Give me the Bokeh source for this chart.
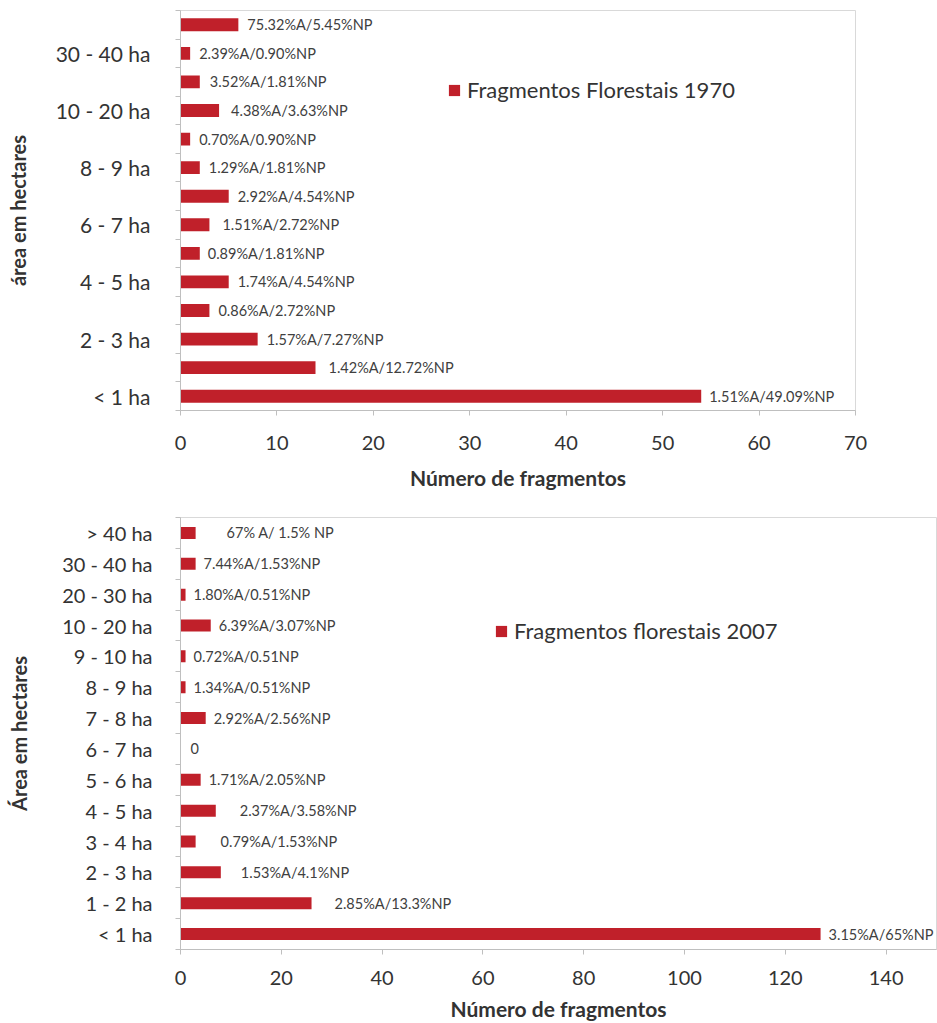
from bokeh.plotting import figure
from bokeh.models import Range1d, FixedTicker, ColumnDataSource, Legend, LegendItem
from bokeh.embed import file_html
from bokeh.resources import INLINE
from bokeh.core.properties import value

# ---- data ----
classes = ["< 1 ha", "1 - 2 ha", "2 - 3 ha", "3 - 4 ha", "4 - 5 ha", "5 - 6 ha", "6 - 7 ha",
           "7 - 8 ha", "8 - 9 ha", "9 - 10 ha", "10 - 20 ha", "20 - 30 ha", "30 - 40 ha", "> 40 ha"]

count_1970 = [54, 14, 8, 3, 5, 2, 3, 5, 2, 1, 4, 2, 1, 6]
labels_1970 = ["1.51%A/49.09%NP", "1.42%A/12.72%NP", "1.57%A/7.27%NP", "0.86%A/2.72%NP",
               "1.74%A/4.54%NP", "0.89%A/1.81%NP", "1.51%A/2.72%NP", "2.92%A/4.54%NP",
               "1.29%A/1.81%NP", "0.70%A/0.90%NP", "4.38%A/3.63%NP", "3.52%A/1.81%NP",
               "2.39%A/0.90%NP", "75.32%A/5.45%NP"]
shown_1970 = [0, 2, 4, 6, 8, 10, 12]   # category rows that carry a tick label
x_ticks_1970 = [0, 10, 20, 30, 40, 50, 60, 70]

count_2007 = [127, 26, 8, 3, 7, 4, 0, 5, 1, 1, 6, 1, 3, 3]
labels_2007 = ["3.15%A/65%NP", "2.85%A/13.3%NP", "1.53%A/4.1%NP", "0.79%A/1.53%NP",
               "2.37%A/3.58%NP", "1.71%A/2.05%NP", "0", "2.92%A/2.56%NP",
               "1.34%A/0.51%NP", "0.72%A/0.51NP", "6.39%A/3.07%NP", "1.80%A/0.51%NP",
               "7.44%A/1.53%NP", "67% A/ 1.5% NP"]
shown_2007 = list(range(14))
x_ticks_2007 = [0, 20, 40, 60, 80, 100, 120, 140]

# ---- style (pixel offsets of the data labels from bar ends) ----
dx_1970 = [8, 13, 9, 9, 9, 8, 13, 9, 9, 9, 12, 10, 9, 9]
dx_2007 = [8, 23, 20, 25, 24, 8, 10, 8, 8, 8, 8, 8, 8, 31]

FONT = "Lato"
RED = "#C0202A"
GRAY = "#BFBFBF"
TXT = "#333333"


def make_chart(counts, labels, dx, shown, xticks, xmax, ytitle, legend_label,
               height, b_top, b_bottom, b_right, legend_loc, bar_h, ytick_size,
               ylab_standoff, ytitle_standoff, xlab_standoff, xtitle_standoff):
    n = len(classes)
    src = ColumnDataSource(dict(y=list(range(n)), count=counts, label=labels, dx=dx))
    p = figure(width=937, height=height, output_backend="svg", toolbar_location=None,
               x_range=Range1d(0, xmax), y_range=Range1d(-0.5, n - 0.5),
               min_border_left=180, min_border_right=b_right,
               min_border_top=b_top, min_border_bottom=b_bottom)
    p.background_fill_color = "white"
    p.border_fill_color = "white"
    p.outline_line_color = "#D9D9D9"
    p.xgrid.visible = False
    p.ygrid.visible = False

    bars = p.hbar(y="y", right="count", left=0, height=bar_h, fill_color=RED,
                  line_color=None, source=src)
    p.text(x="count", y="y", text="label", x_offset="dx", text_baseline="middle",
           text_align="left", text_font=value(FONT), text_font_size="14.5px",
           text_color="#404040", source=src)

    # y axis
    yax = p.yaxis[0]
    yax.ticker = FixedTicker(ticks=shown, minor_ticks=[i - 0.5 for i in range(n + 1)])
    yax.major_label_overrides = {i: classes[i] for i in shown}
    yax.axis_line_color = GRAY
    yax.major_tick_line_color = None
    yax.major_tick_out = 0
    yax.major_tick_in = 0
    yax.minor_tick_line_color = GRAY
    yax.minor_tick_out = 5
    yax.minor_tick_in = 0
    yax.major_label_standoff = ylab_standoff
    yax.major_label_text_font = FONT
    yax.major_label_text_font_size = ytick_size
    yax.major_label_text_color = TXT
    yax.axis_label = ytitle
    yax.axis_label_text_font = FONT
    yax.axis_label_text_font_style = "bold"
    yax.axis_label_text_font_size = "20px"
    yax.axis_label_text_color = TXT
    yax.axis_label_standoff = ytitle_standoff

    # x axis
    xax = p.xaxis[0]
    xax.ticker = FixedTicker(ticks=xticks, minor_ticks=[])
    xax.axis_line_color = GRAY
    xax.major_tick_line_color = GRAY
    xax.major_tick_out = 5
    xax.major_tick_in = 0
    xax.minor_tick_line_color = None
    xax.major_label_standoff = xlab_standoff
    xax.major_label_text_font = FONT
    xax.major_label_text_font_size = "20px"
    xax.major_label_text_color = TXT
    xax.axis_label = "Número de fragmentos"
    xax.axis_label_text_font = FONT
    xax.axis_label_text_font_style = "bold"
    xax.axis_label_text_font_size = "21px"
    xax.axis_label_text_color = TXT
    xax.axis_label_standoff = xtitle_standoff

    legend = Legend(items=[LegendItem(label=legend_label, renderers=[bars])],
                    location=legend_loc, border_line_color=None,
                    background_fill_alpha=0, padding=0, margin=0,
                    glyph_width=14, glyph_height=14, label_standoff=6,
                    label_text_font=FONT, label_text_font_size="22px",
                    label_text_color=TXT)
    p.add_layout(legend)
    return p


p1 = make_chart(count_1970, labels_1970, dx_1970, shown_1970, x_ticks_1970, 70,
                "área em hectares", "Fragmentos Florestais 1970",
                height=492, b_top=10, b_bottom=82, b_right=82, legend_loc=(267, 307),
                bar_h=0.45, ytick_size="21px", ylab_standoff=25, ytitle_standoff=23,
                xlab_standoff=20, xtitle_standoff=12)

p2 = make_chart(count_2007, labels_2007, dx_2007, shown_2007, x_ticks_2007, 150,
                "Área em hectares", "Fragmentos florestais 2007",
                height=531, b_top=25, b_bottom=73, b_right=1, legend_loc=(314, 305),
                bar_h=0.39, ytick_size="20px", ylab_standoff=23, ytitle_standoff=28,
                xlab_standoff=16, xtitle_standoff=8)

open("out.html", "w").write(file_html([p1, p2], INLINE))
